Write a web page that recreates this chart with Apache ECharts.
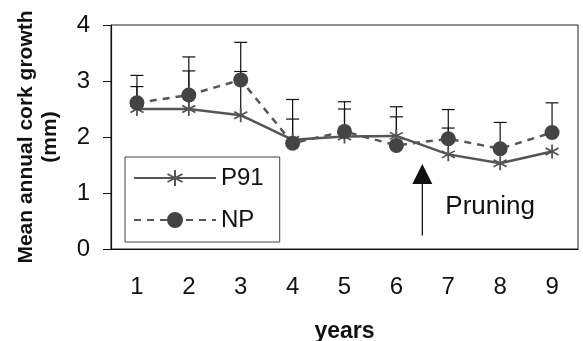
<!DOCTYPE html>
<html>
<head>
<meta charset="utf-8">
<script src="https://cdn.jsdelivr.net/npm/echarts@6/dist/echarts.min.js"></script>
<style>
  html, body { margin: 0; padding: 0; background: #fff; }
  #chart { width: 583px; height: 341px; }
</style>
</head>
<body>
<div id="chart"></div>
<script>
const years = ["1", "2", "3", "4", "5", "6", "7", "8", "9"];
const p91 = [2.5, 2.5, 2.39, 1.95, 2.01, 2.02, 1.69, 1.53, 1.74];
const np = [2.61, 2.75, 3.02, 1.89, 2.1, 1.85, 1.97, 1.79, 2.08];
// upper ends of the error bars
const npUpper = [3.1, 3.43, 3.69, 2.67, 2.63, 2.54, 2.49, 2.26, 2.61];
const p91Upper = [2.9, 3.18, 3.17, 2.32, 2.5, 2.36, 2.16, null, null];
const yTicks = [0, 1, 2, 3, 4];
// pruning arrow: after year 6, from/to in mm
const pruningAfter = 5;
const arrowFrom = 0.24;
const arrowTo = 1.52;
const pruningLabelAt = 0.75;

const FONT = "'Liberation Sans', Arial, sans-serif";
const STAR =
  "path://M-0.12 -1L0.12 -1L0.12 1L-0.12 1Z" +
  "M0.806 -0.604L0.926 -0.396L-0.806 0.604L-0.926 0.396Z" +
  "M-0.926 -0.396L-0.806 -0.604L0.926 0.396L0.806 0.604Z";

const errData = [];
years.forEach((_, i) => {
  if (npUpper[i] != null) errData.push([i, np[i], npUpper[i]]);
  if (p91Upper[i] != null) errData.push([i, p91[i], p91Upper[i]]);
});

function renderErr(params, api) {
  const lo = api.coord([api.value(0), api.value(1)]);
  const hi = api.coord([api.value(0), api.value(2)]);
  const st = { stroke: "#111", lineWidth: 1.2 };
  return {
    type: "group",
    children: [
      { type: "line", shape: { x1: lo[0], y1: lo[1], x2: hi[0], y2: hi[1] }, style: st },
      { type: "line", shape: { x1: hi[0] - 6.5, y1: hi[1], x2: hi[0] + 6.5, y2: hi[1] }, style: st },
    ],
  };
}

function renderArrow(params, api) {
  const half = api.size([1, 0])[0] / 2;
  const b = api.coord([api.value(0), api.value(1)]);
  const t = api.coord([api.value(0), api.value(2)]);
  const l = api.coord([api.value(0), api.value(3)]);
  const x = b[0] + half;
  return {
    type: "group",
    children: [
      { type: "line", shape: { x1: x, y1: b[1], x2: x, y2: t[1] + 19 }, style: { stroke: "#111", lineWidth: 1.3 } },
      { type: "polygon", shape: { points: [[x, t[1]], [x - 10, t[1] + 20], [x + 10, t[1] + 20]] }, style: { fill: "#111" } },
      {
        type: "text",
        x: x + 23,
        y: l[1],
        style: { text: "Pruning", fontSize: 26, fontFamily: FONT, fill: "#111", verticalAlign: "middle" },
      },
    ],
  };
}

const chart = echarts.init(document.getElementById("chart"), null, { renderer: "canvas" });
chart.setOption({
  backgroundColor: "#fff",
  animation: false,
  textStyle: { fontFamily: FONT },
  grid: {
    left: 111,
    right: 5,
    top: 25,
    bottom: 92,
    show: true,
    borderColor: "#222",
    borderWidth: 1,
    containLabel: false,
    outerBoundsMode: "none",
  },
  legend: {
    data: ["P91", "NP"],
    orient: "vertical",
    left: 125,
    top: 157,
    padding: [9, 16, 10, 8],
    itemGap: 18,
    itemWidth: 82,
    itemHeight: 20,
    borderColor: "#444",
    borderWidth: 1,
    backgroundColor: "#fff",
    textStyle: { fontSize: 24, color: "#111", fontFamily: FONT },
  },
  xAxis: {
    type: "category",
    data: years,
    boundaryGap: true,
    name: "years",
    nameLocation: "middle",
    nameGap: 71,
    nameTextStyle: { fontSize: 23, fontWeight: "bold", color: "#111" },
    axisLine: { lineStyle: { color: "#111", width: 1.2 } },
    axisTick: { length: 8, lineStyle: { color: "#111" } },
    axisLabel: { fontSize: 24, color: "#111", margin: 26 },
    splitLine: { show: false },
  },
  yAxis: {
    type: "value",
    min: yTicks[0],
    max: yTicks[yTicks.length - 1],
    interval: 1,
    name: "Mean annual cork growth\n(mm)",
    nameLocation: "middle",
    nameRotate: 90,
    nameGap: 49,
    nameTextStyle: { fontSize: 21, fontWeight: "bold", color: "#111", lineHeight: 24 },
    axisLine: { show: true, lineStyle: { color: "#111", width: 1.2 } },
    axisTick: { show: true, length: 8, lineStyle: { color: "#111" } },
    axisLabel: { fontSize: 24, color: "#111", margin: 21 },
    splitLine: { show: false },
  },
  series: [
    {
      type: "custom",
      name: "err",
      renderItem: renderErr,
      data: errData,
      z: 1,
      silent: true,
    },
    {
      type: "custom",
      name: "pruning",
      renderItem: renderArrow,
      data: [[pruningAfter, arrowFrom, arrowTo, pruningLabelAt]],
      z: 1,
      silent: true,
    },
    {
      name: "P91",
      type: "line",
      data: p91,
      symbol: STAR,
      symbolSize: 14,
      color: "#555",
      itemStyle: { color: "#555" },
      lineStyle: { color: "#555", width: 2.5 },
      z: 3,
    },
    {
      name: "NP",
      type: "line",
      data: np,
      symbol: "circle",
      symbolSize: 15,
      color: "#444",
      itemStyle: { color: "#444" },
      lineStyle: { color: "#555", width: 2.5, type: [7, 6] },
      z: 3,
    },
  ],
});
</script>
</body>
</html>
